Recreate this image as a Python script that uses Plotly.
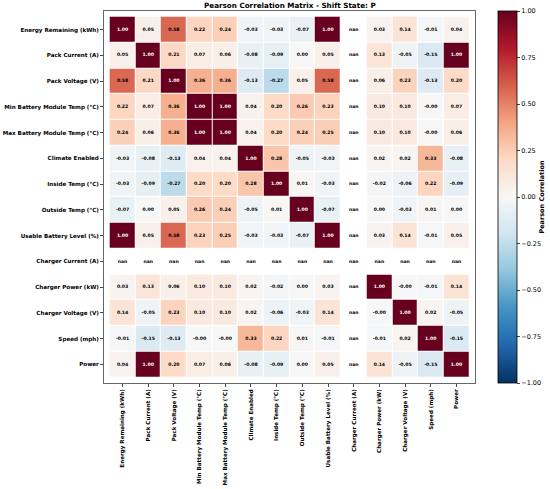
import numpy as np
import plotly.graph_objects as go

labels = [
    "Energy Remaining (kWh)", "Pack Current (A)", "Pack Voltage (V)",
    "Min Battery Module Temp (°C)", "Max Battery Module Temp (°C)",
    "Climate Enabled", "Inside Temp (°C)", "Outside Temp (°C)",
    "Usable Battery Level (%)", "Charger Current (A)", "Charger Power (kW)",
    "Charger Voltage (V)", "Speed (mph)", "Power",
]

nan = None
corr = [
    [1.00, 0.05, 0.58, 0.22, 0.24, -0.03, -0.03, -0.07, 1.00, nan, 0.03, 0.14, -0.01, 0.04],
    [0.05, 1.00, 0.21, 0.07, 0.06, -0.08, -0.09, 0.00, 0.05, nan, 0.13, -0.05, -0.15, 1.00],
    [0.58, 0.21, 1.00, 0.36, 0.36, -0.13, -0.27, 0.05, 0.58, nan, 0.06, 0.23, -0.13, 0.20],
    [0.22, 0.07, 0.36, 1.00, 1.00, 0.04, 0.20, 0.26, 0.23, nan, 0.10, 0.10, -0.00, 0.07],
    [0.24, 0.06, 0.36, 1.00, 1.00, 0.04, 0.20, 0.24, 0.25, nan, 0.10, 0.10, -0.00, 0.06],
    [-0.03, -0.08, -0.13, 0.04, 0.04, 1.00, 0.28, -0.05, -0.03, nan, 0.02, 0.02, 0.33, -0.08],
    [-0.03, -0.09, -0.27, 0.20, 0.20, 0.28, 1.00, 0.01, -0.03, nan, -0.02, -0.06, 0.22, -0.09],
    [-0.07, 0.00, 0.05, 0.26, 0.24, -0.05, 0.01, 1.00, -0.07, nan, 0.00, -0.03, 0.01, 0.00],
    [1.00, 0.05, 0.58, 0.23, 0.25, -0.03, -0.03, -0.07, 1.00, nan, 0.03, 0.14, -0.01, 0.05],
    [nan] * 14,
    [0.03, 0.13, 0.06, 0.10, 0.10, 0.02, -0.02, 0.00, 0.03, nan, 1.00, -0.00, -0.01, 0.14],
    [0.14, -0.05, 0.23, 0.10, 0.10, 0.02, -0.06, -0.03, 0.14, nan, -0.00, 1.00, 0.02, -0.05],
    [-0.01, -0.15, -0.13, -0.00, -0.00, 0.33, 0.22, 0.01, -0.01, nan, -0.01, 0.02, 1.00, -0.15],
    [0.04, 1.00, 0.20, 0.07, 0.06, -0.08, -0.09, 0.00, 0.05, nan, 0.14, -0.05, -0.15, 1.00],
]

cbar_ticks = [-1, -0.75, -0.5, -0.25, 0, 0.25, 0.5, 0.75, 1]

# matplotlib RdBu_r
rdbu_r = [
    "rgb(5,48,97)", "rgb(33,102,172)", "rgb(67,147,195)", "rgb(146,197,222)",
    "rgb(209,229,240)", "rgb(247,247,247)", "rgb(253,219,199)", "rgb(244,165,130)",
    "rgb(214,96,77)", "rgb(178,24,43)", "rgb(103,0,31)",
]

# cell text
xs, ys, txt, cols = [], [], [], []
for i, row in enumerate(corr):
    for j, v in enumerate(row):
        xs.append(labels[j])
        ys.append(labels[i])
        if v is None:
            txt.append("nan")
            cols.append("black")
        else:
            txt.append(f"{v:.2f}")
            cols.append("white" if abs(v) > 0.7 else "black")

fig = go.Figure()
fig.add_heatmap(
    z=corr, x=labels, y=labels, zmin=-1, zmax=1,
    colorscale=rdbu_r, xgap=1, ygap=1, hoverongaps=False,
    colorbar=dict(
        x=1.062, xanchor="left", xpad=0, ypad=0, y=0.5, len=1.0, yanchor="middle",
        thickness=19, outlinewidth=0.8, outlinecolor="black",
        tickvals=cbar_ticks,
        ticktext=[f"{t:.2f}".replace("-", "−") for t in cbar_ticks],
        ticks="outside", ticklen=3, tickfont=dict(size=6.5, family="DejaVu Sans", color="black"),
        title=dict(text="<b>Pearson Correlation</b>", side="right",
                   font=dict(size=6.5, family="DejaVu Sans", color="black")),
    ),
)
fig.add_scatter(
    x=xs, y=ys, mode="text", text=txt, hoverinfo="skip", showlegend=False,
    textfont=dict(size=4.6, family="DejaVu Sans", color=cols, weight="bold"),
)

axis_font = dict(size=5.6, family="DejaVu Sans", color="black", weight="bold")
fig.update_layout(
    width=550, height=489,
    margin=dict(l=104, r=75, t=11, b=106, autoexpand=False),
    paper_bgcolor="white", plot_bgcolor="white",
    title=dict(text="<b>Pearson Correlation Matrix - Shift State: P</b>",
               x=0.527, xanchor="center", y=0.988, yanchor="middle",
               font=dict(size=7.2, family="DejaVu Sans", color="black")),
    xaxis=dict(type="category", tickangle=-90, tickfont=axis_font, ticks="outside",
               ticklen=3, showgrid=False, showline=True, mirror=True, automargin=False,
               linecolor="#666", linewidth=1),
    yaxis=dict(type="category", autorange="reversed", tickfont=axis_font, ticks="outside",
               ticklen=3, showgrid=False, showline=True, mirror=True, automargin=False,
               linecolor="#666", linewidth=1),
)

fig.write_html("out.html", config={"displayModeBar": False},
               post_script="document.body.style.margin='0px';")
